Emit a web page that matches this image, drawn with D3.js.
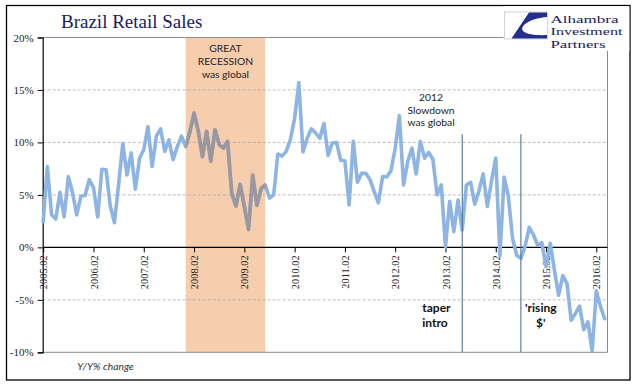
<!DOCTYPE html>
<html><head><meta charset="utf-8">
<script src="https://cdn.jsdelivr.net/npm/d3@7"></script>
<style>
html,body{margin:0;padding:0;background:#fff;}
svg{display:block;}
</style></head>
<body>
<svg id="chart" width="641" height="391"></svg>
<script>
// ---- data ----
const startYear = 2005, startMonth = 2;
const salesYoY = [
  2.45, 7.7, 3.1, 2.7, 5.25, 2.9, 6.75, 5.2, 3.1, 4.9, 4.95, 6.45,
  5.7, 2.9, 7.45, 7.4, 3.95, 2.35, 6.0, 9.9, 6.9, 9.0, 5.55, 8.5,
  9.3, 11.5, 7.7, 10.6, 11.3, 9.15, 10.25, 8.35, 9.6, 10.6, 9.6, 11.0,
  12.8, 11.1, 8.65, 11.05, 8.2, 11.2, 9.8, 9.45, 10.1, 5.15, 3.95, 6.0,
  3.9, 1.7, 6.9, 4.0, 5.6, 5.95, 4.7, 5.0, 8.9, 8.7, 9.15, 10.3,
  12.3, 15.7, 9.1, 10.4, 11.3, 10.9, 10.4, 11.8, 8.75, 9.95, 10.0, 8.3,
  8.25, 4.05, 10.1, 6.2, 7.05, 7.05, 6.45, 5.3, 4.25, 6.75, 6.7, 7.3,
  9.45, 12.55, 5.95, 8.2, 9.45, 7.0, 10.1, 8.5, 9.05, 8.4, 5.0, 5.95,
  0.05, 4.4, 1.5, 4.5, 1.65, 5.95, 6.2, 4.1, 5.4, 7.0, 3.9, 6.35,
  8.5, -0.8, 6.7, 4.9, 0.85, -0.75, -1.05, 0.1, 1.9, 1.2, 0.2, 0.45,
  -1.85, 0.4, -2.15, -4.55, -2.7, -3.45, -6.95, -6.3, -5.6, -7.85, -7.1, -9.9,
  -4.15, -5.65, -6.8
];
const categories = salesYoY.map((v, i) => {
  const m0 = startMonth - 1 + i;
  const yr = startYear + Math.floor(m0 / 12);
  const mo = (m0 % 12) + 1;
  return yr + "." + (mo < 10 ? "0" : "") + mo;
});
const xTickLabels = ["2005.02","2006.02","2007.02","2008.02","2009.02","2010.02",
  "2011.02","2012.02","2013.02","2014.02","2015.02","2016.02"];
const yTicks = [-10, -5, 0, 5, 10, 15, 20];
const gridValues = [-5, 5, 10, 15];
const recessionSpan = ["2007.12", "2009.07"];
const eventMonths = ["2013.06", "2014.08"];

// ---- layout ----
const svg = d3.select("#chart");
const L = 42.7, R = 607.5, T = 37.5, B = 352.3;
const x = d3.scalePoint().domain(categories).range([43.2, 604.7]);
const y = d3.scaleLinear().domain([-10, 20]).range([B, T]);

// outer frame
svg.append("rect").attr("x", 6.5).attr("y", 5.5).attr("width", 623.5).attr("height", 374.5)
  .attr("fill", "#fff").attr("stroke", "#000").attr("stroke-width", 1.3);

// recession shading
const sx0 = x(recessionSpan[0]), sx1 = x(recessionSpan[1]);
svg.append("rect").attr("x", sx0).attr("y", T).attr("width", sx1 - sx0).attr("height", B - T)
  .attr("fill", "#f6ceae");

// gridlines
svg.append("g").selectAll("line").data(gridValues).join("line")
  .attr("x1", L).attr("x2", R).attr("y1", d => y(d)).attr("y2", d => y(d))
  .attr("stroke", "#ababab").attr("stroke-width", 0.8).attr("stroke-dasharray", "3,2");

// plot border (top, right, bottom)
svg.append("path")
  .attr("d", `M${L},${T}H${R}V${B}H${L}`)
  .attr("fill", "none").attr("stroke", "#8a8a8a").attr("stroke-width", 1);

// y axis
const yAxis = svg.append("g").attr("transform", `translate(${L},0)`)
  .call(d3.axisLeft(y).tickValues(yTicks).tickFormat(d => String(d).replace("\u2212", "-") + "%").tickSize(5).tickPadding(4));
yAxis.select(".domain").attr("stroke", "#000").attr("stroke-width", 1.2);
yAxis.selectAll(".tick line").attr("stroke", "#000");
yAxis.selectAll("text").attr("font-family", "'Liberation Serif', serif").attr("font-size", 11).attr("fill", "#222");

// x axis at zero
const xAxis = svg.append("g").attr("transform", `translate(0,${y(0)})`)
  .call(d3.axisBottom(x).tickValues(xTickLabels).tickSize(5).tickSizeOuter(0));
xAxis.select(".domain").attr("stroke", "#000").attr("stroke-width", 1.2)
  .attr("d", `M${L},0H${R}`);
xAxis.selectAll(".tick line").attr("stroke", "#000");
xAxis.selectAll("text")
  .attr("transform", "rotate(-90)")
  .attr("x", -8).attr("y", 0).attr("dy", "0.35em")
  .style("text-anchor", "end")
  .attr("font-family", "'Liberation Serif', serif").attr("font-size", 10.4).attr("fill", "#222");

// series line
const line = d3.line().x((d, i) => x(categories[i])).y(d => y(d)).curve(d3.curveLinear);
svg.append("path").datum(salesYoY).attr("d", line)
  .attr("fill", "none").attr("stroke", "#8db4e2").attr("stroke-width", 3.6)
  .attr("stroke-linejoin", "round").attr("stroke-linecap", "round");

// gray part of the line within the shading
svg.append("clipPath").attr("id", "recClip").append("rect")
  .attr("x", sx0).attr("y", 0).attr("width", sx1 - sx0).attr("height", 391);
svg.append("path").datum(salesYoY).attr("d", line).attr("clip-path", "url(#recClip)")
  .attr("fill", "none").attr("stroke", "#9b979d").attr("stroke-width", 3.6)
  .attr("stroke-linejoin", "round").attr("stroke-linecap", "round");

// event vertical lines
svg.append("g").selectAll("line").data(eventMonths).join("line")
  .attr("x1", d => x(d)).attr("x2", d => x(d)).attr("y1", 134.3).attr("y2", B)
  .attr("stroke", "#4d7399").attr("stroke-width", 1.1);

// annotations
const annFont = "Lato, 'Open Sans', sans-serif";
function multiline(lines, cx, y0, dy, opts) {
  const t = svg.append("text").attr("font-family", annFont).attr("font-size", opts.size)
    .attr("font-weight", opts.weight || "normal").attr("fill", opts.fill || "#222")
    .attr("text-anchor", opts.anchor || "middle");
  lines.forEach((s, k) => t.append("tspan").attr("x", cx).attr("y", y0 + k * dy).text(s));
  return t;
}
multiline(["GREAT", "RECESSION", "was global"], (sx0 + sx1) / 2, 52.3, 12.8, {size: 10.3});
multiline(["2012", "Slowdown", "was global"], 431, 100.7, 12.8, {size: 10.3});
multiline(["taper", "intro"], 422.3, 311.7, 15, {size: 12, weight: "bold", anchor: "start", fill: "#111"});
multiline(["'rising", "$'"], 540.8, 311.7, 15, {size: 12, weight: "bold", fill: "#111"});

svg.append("text").attr("x", 77.3).attr("y", 370).attr("font-family", annFont)
  .attr("font-size", 10.3).attr("font-style", "italic").attr("fill", "#333").text("Y/Y% change");

// title
svg.append("text").attr("x", 61).attr("y", 27.7)
  .attr("font-family", "'Liberation Serif', 'Times New Roman', serif").attr("font-size", 19)
  .attr("fill", "#1a1a66").text("Brazil Retail Sales");

// logo
const logo = svg.append("g");
logo.append("rect").attr("x", 503.5).attr("y", 6.3).attr("width", 125.8).attr("height", 44.5).attr("fill", "#fff");
logo.append("rect").attr("x", 504.5).attr("y", 12).attr("width", 43).attr("height", 27)
  .attr("fill", "#fff").attr("stroke", "#c9c9c9").attr("stroke-width", 0.8);
logo.append("path")
  .attr("d", "M529,12.5 L547,12.5 L547,17 C532,18 519,25 523,31 C527,35 539,35.5 547,35 L547,38.6 L511.5,38.6 Z")
  .attr("fill", "#22308c");
const logoLines = ["Alhambra", "Investment", "Partners"];
const logoWidths = [68, 72, 55];
const logoText = logo.append("text")
  .attr("font-family", "'Liberation Serif', serif").attr("font-size", 11.2)
  .attr("fill", "#1c1c5a");
logoLines.forEach((s, k) => {
  logoText.append("tspan").attr("x", 550.5).attr("y", 22.5 + k * 12.5)
    .attr("textLength", logoWidths[k]).attr("lengthAdjust", "spacingAndGlyphs")
    .text(s);
});
</script>
</body></html>
